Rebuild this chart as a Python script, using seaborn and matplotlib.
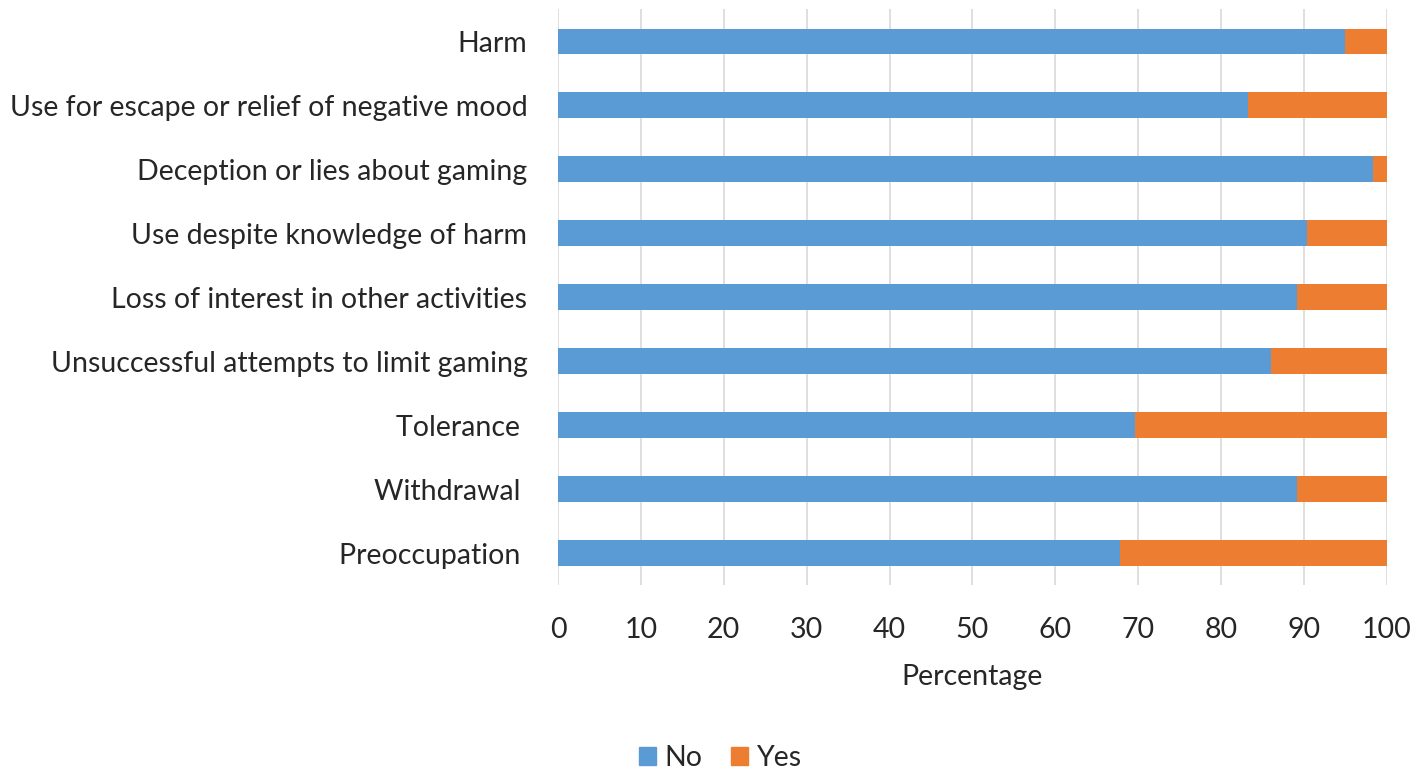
import pandas as pd
import matplotlib.pyplot as plt
import seaborn as sns
from matplotlib.patches import Patch

# criteria, top to bottom as in the chart
criteria = ["Harm",
            "Use for escape or relief of negative mood",
            "Deception or lies about gaming",
            "Use despite knowledge of harm",
            "Loss of interest in other activities",
            "Unsuccessful attempts to limit gaming",
            "Tolerance ",
            "Withdrawal ",
            "Preoccupation "]
no_pct = [95.0, 83.2, 98.3, 90.4, 89.2, 86.0, 69.6, 89.2, 67.8]
yes_pct = [5.0, 16.8, 1.7, 9.6, 10.8, 14.0, 30.4, 10.8, 32.2]

blue = "#5B9BD5"
orange = "#ED7D31"
txt = "#262626"

df = pd.DataFrame({"criterion": criteria, "No": no_pct, "Yes": yes_pct})
df["total"] = df["No"] + df["Yes"]

sns.set_style("white")
plt.rcParams['font.family'] = ['Lato', 'DejaVu Sans']

fig = plt.figure(figsize=(14.18, 7.77), dpi=100)
ax = fig.add_axes([0.3935, 0.247, 0.5845, 0.741])

# stacked: draw total in orange, then "No" on top in blue
sns.barplot(data=df, x="total", y="criterion", color=orange, width=0.4,
            saturation=1, linewidth=0, ax=ax, zorder=2)
sns.barplot(data=df, x="No", y="criterion", color=blue, width=0.4,
            saturation=1, linewidth=0, ax=ax, zorder=3)

ax.set_xlim(0, 100)
ax.set_ylim(8.5, -0.5)
ax.set_xticks(range(0, 101, 10))
ax.xaxis.grid(True, color="#d9d9d9", linewidth=1.2, zorder=0)
ax.set_axisbelow(True)
for s in ax.spines.values():
    s.set_visible(False)

ax.tick_params(axis="both", length=0, labelsize=20.5, colors=txt)
ax.tick_params(axis="y", pad=22)
ax.tick_params(axis="x", pad=23)
ax.set_ylabel("")
ax.set_xlabel("Percentage", fontsize=20.5, color=txt, labelpad=15)

handles = [Patch(color=blue, label="No"), Patch(color=orange, label="Yes")]
fig.legend(handles=handles, loc="center", bbox_to_anchor=(0.508, 0.024),
           ncol=2, frameon=False, fontsize=20.5, handlelength=0.6,
           handleheight=0.6, handletextpad=0.3, columnspacing=1.0,
           labelcolor=txt)

fig.savefig("out.png", dpi=100)
